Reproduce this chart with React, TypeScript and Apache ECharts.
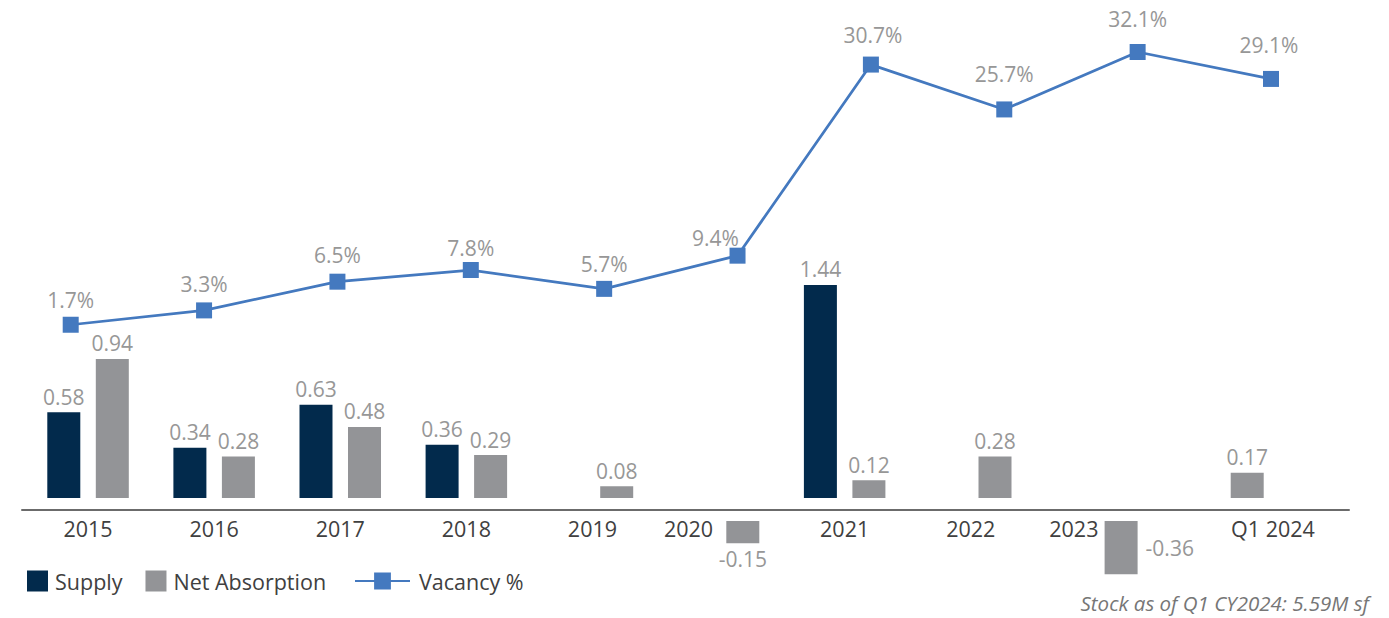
import React, { useEffect, useRef } from "react";
import * as echarts from "echarts";

const categories = ["2015", "2016", "2017", "2018", "2019", "2020", "2021", "2022", "2023", "Q1 2024"];
const supply = [0.58, 0.34, 0.63, 0.36, 0, 0, 1.44, 0, 0, 0];
const netAbsorption = [0.94, 0.28, 0.48, 0.29, 0.08, -0.15, 0.12, 0.28, -0.36, 0.17];
const vacancy = [1.7, 3.3, 6.5, 7.8, 5.7, 9.4, 30.7, 25.7, 32.1, 29.1];
const footnote = "Stock as of Q1 CY2024: 5.59M sf";

const NAVY = "#022a4c";
const GRAY = "#939497";
const BLUE = "#4479bf";
const LABEL_GRAY = "#979797";
const AXIS_TEXT = "#404040";
const FONT = "Open Sans";

// visual gap between axis line and start of bars (in value units)
const BAR_OFFSET = 0.0777;
// per-category label placement tweaks (style only)
const axisLabelShift: Record<string, string> = { "2020": "l", "2023": "m", "Q1 2024": "r" };
const netLabelPos: Record<number, string> = { 8: "right" };
const vacancyLabelOffset: Record<number, number[]> = {
  1: [0, -2],
  2: [0, -2],
  3: [0, 2],
  5: [-22, 7],
  6: [2, -5],
  7: [0, -11],
  8: [0, -9],
  9: [-2, -9],
};

export default function App() {
  const ref = useRef<HTMLDivElement>(null);
  useEffect(() => {
    if (!ref.current) return;
    const chart = echarts.init(ref.current, null, { renderer: "svg" });
    const dataLabel = {
      show: true,
      color: LABEL_GRAY,
      fontSize: 21,
      fontFamily: FONT,
      distance: 5,
    };
    const supplyBase = supply.map((v) => (v > 0 ? BAR_OFFSET : "-"));
    const supplyVals = supply.map((v) => (v > 0 ? v : "-"));
    const netBase = netAbsorption.map((v) => (v >= 0 ? BAR_OFFSET : -BAR_OFFSET));
    const netVals = netAbsorption.map((v, i) => ({
      value: v,
      label: { position: netLabelPos[i] ?? (v < 0 ? "bottom" : "top"), distance: netLabelPos[i] ? 8 : 5 },
    }));
    const vacancyData = vacancy.map((v, i) => ({
      value: v,
      label: { offset: vacancyLabelOffset[i] ?? [0, 0] },
    }));
    const richBase = { fontSize: 21.5, fontFamily: FONT, color: AXIS_TEXT };
    chart.setOption({
      animation: false,
      backgroundColor: "#ffffff",
      textStyle: { fontFamily: FONT },
      title: {
        text: footnote,
        right: 20,
        top: 592,
        padding: 0,
        textStyle: {
          fontSize: 20.5,
          lineHeight: 22,
          fontStyle: "italic",
          fontWeight: "normal",
          color: "#767676",
          fontFamily: FONT,
        },
      },
      legend: [
        {
          data: ["Supply", "Net Absorption"],
          left: 27,
          top: 570,
          padding: 0,
          itemWidth: 21,
          itemHeight: 21,
          itemGap: 23,
          icon: "rect",
          textStyle: { fontSize: 21.5, color: AXIS_TEXT, fontFamily: FONT, padding: [0, 0, 0, 2] },
        },
        {
          data: ["Vacancy %"],
          left: 354,
          top: 570,
          padding: 0,
          itemWidth: 55,
          itemHeight: 21,
          textStyle: { fontSize: 21.5, color: AXIS_TEXT, fontFamily: FONT, padding: [0, 0, 0, 4] },
        },
      ],
      grid: [
        { left: 25, right: 103, top: 139.5, bottom: 34.5 },
        { left: 70.7, right: 118, top: 26, bottom: 278 },
        { left: 22, right: 40, top: 480, bottom: 108 },
      ],
      xAxis: [
        {
          type: "category",
          gridIndex: 0,
          data: categories,
          boundaryGap: true,
          position: "bottom",
          offset: -74,
          axisLine: { show: false, onZero: false },
          axisTick: { show: false },
          axisLabel: {
            interval: 0,
            margin: 8,
            fontSize: 21.5,
            color: AXIS_TEXT,
            fontFamily: FONT,
            formatter: (v: string) => `{${axisLabelShift[v] ?? "n"}|${v}}`,
            rich: {
              n: { ...richBase },
              l: { ...richBase, padding: [0, 60, 0, 0] },
              m: { ...richBase, padding: [0, 46, 0, 0] },
              r: { ...richBase, padding: [0, 0, 0, 100] },
            },
          },
        },
        {
          type: "category",
          gridIndex: 1,
          data: categories,
          boundaryGap: false,
          show: false,
        },
        {
          type: "value",
          gridIndex: 2,
          min: 0,
          max: 1,
          axisLine: { show: true, onZero: false, lineStyle: { color: "#6b6b6b", width: 2 } },
          axisTick: { show: false },
          axisLabel: { show: false },
          splitLine: { show: false },
        },
      ],
      yAxis: [
        { type: "value", gridIndex: 0, min: -0.5, max: 2.5, show: false },
        { type: "value", gridIndex: 1, min: 0, max: 35, show: false },
        { type: "value", gridIndex: 2, min: 0, max: 1, show: false },
      ],
      series: [
        {
          type: "bar",
          name: "supplyBase",
          stack: "s",
          xAxisIndex: 0,
          yAxisIndex: 0,
          data: supplyBase,
          barWidth: 33,
          barGap: "47%",
          silent: true,
          itemStyle: { color: "rgba(0,0,0,0)" },
        },
        {
          type: "bar",
          name: "Supply",
          stack: "s",
          xAxisIndex: 0,
          yAxisIndex: 0,
          data: supplyVals,
          barWidth: 33,
          barGap: "47%",
          itemStyle: { color: NAVY },
          label: { ...dataLabel, position: "top", formatter: (p: any) => Number(p.value).toFixed(2) },
        },
        {
          type: "bar",
          name: "netBase",
          stack: "n",
          xAxisIndex: 0,
          yAxisIndex: 0,
          data: netBase,
          barWidth: 33,
          barGap: "47%",
          silent: true,
          itemStyle: { color: "rgba(0,0,0,0)" },
        },
        {
          type: "bar",
          name: "Net Absorption",
          stack: "n",
          xAxisIndex: 0,
          yAxisIndex: 0,
          data: netVals,
          barWidth: 33,
          barGap: "47%",
          itemStyle: { color: GRAY },
          label: { ...dataLabel, formatter: (p: any) => Number(p.value).toFixed(2) },
        },
        {
          type: "line",
          name: "Vacancy %",
          xAxisIndex: 1,
          yAxisIndex: 1,
          data: vacancyData,
          symbol: "rect",
          symbolSize: 16,
          lineStyle: { color: BLUE, width: 2.75 },
          itemStyle: { color: BLUE },
          label: { ...dataLabel, position: "top", distance: 6, formatter: (p: any) => Number(p.value).toFixed(1) + "%" },
          z: 5,
        },
      ],
    });
    return () => chart.dispose();
  }, []);
  return (
    <div
      ref={ref}
      style={{ position: "absolute", left: 0, top: 0, width: 1389, height: 618, background: "#fff" }}
    />
  );
}
